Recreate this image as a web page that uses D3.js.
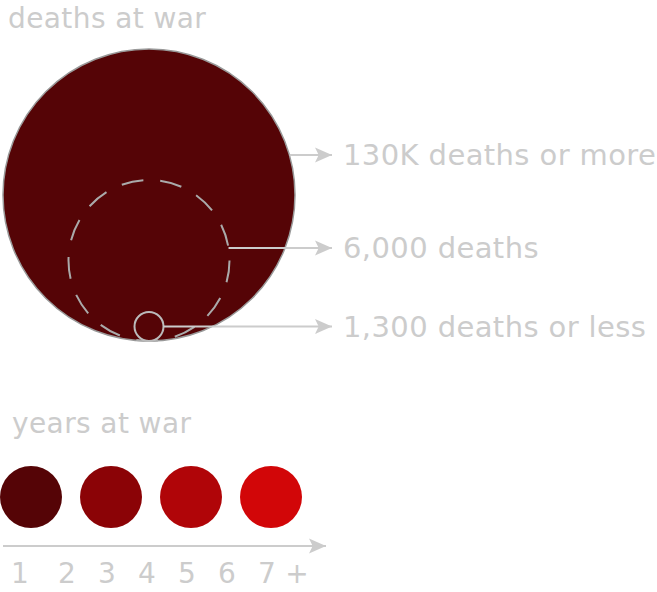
<!DOCTYPE html>
<html>
<head>
<meta charset="utf-8">
<script src="https://cdn.jsdelivr.net/npm/d3@7"></script>
<style>
  html, body { margin: 0; padding: 0; background: #fff; }
  svg { display: block; }
  text { font-family: "DejaVu Sans", sans-serif; fill: #cccccc; }
</style>
</head>
<body>
<svg id="chart" width="657" height="592"></svg>
<script>
// ---- data ----
const deathLevels = [130000, 6000, 1300];
const deathLabels = ["130K deaths or more", "6,000 deaths", "1,300 deaths or less"];
const yearCircles = [1, 3, 5, 7];
const yearColors = ["#550406", "#8b0306", "#b00508", "#d20608"];
const yearTickLabels = ["1", "2", "3", "4", "5", "6", "7", "+"];
const yearTickValues = [1, 2, 3, 4, 5, 6, 7, 7.75];

const svg = d3.select("#chart");
const fsTitle = 28, fsLabel = 29, fsTick = 28;
const ls = 0.4;

// marker
svg.append("defs").append("marker")
  .attr("id", "arr")
  .attr("viewBox", "0 -10 20 20")
  .attr("refX", 18).attr("refY", 0)
  .attr("markerWidth", 19).attr("markerHeight", 19)
  .attr("markerUnits", "userSpaceOnUse")
  .attr("orient", "auto")
  .append("path")
  .attr("d", "M0,-8 L18,0 L0,8 L4,0 Z")
  .attr("fill", "#cccccc");

// ---- deaths legend ----
svg.append("text").attr("x", 8).attr("y", 28)
  .attr("font-size", fsTitle).attr("letter-spacing", ls).text("deaths at war");

const rScale = d3.scaleLog().domain([1300, 6000, 130000]).range([14.5, 80.5, 146]);
const cx = 149, bottomY = 341;
const rowY = [155, 248, 326.5];

const g = svg.append("g");
deathLevels.forEach((d, i) => {
  const r = rScale(d);
  const cy = bottomY - r;
  const c = g.append("circle").attr("cx", cx).attr("cy", cy).attr("r", r);
  if (i === 0) {
    c.attr("fill", yearColors[0]).attr("stroke", "#999").attr("stroke-width", 1.5);
  } else if (i === 1) {
    c.attr("fill", "none").attr("stroke", "#aaaaaa").attr("stroke-width", 2)
     .attr("stroke-dasharray", "22,17");
  } else {
    c.attr("fill", "none").attr("stroke", "#bbbbbb").attr("stroke-width", 2);
  }
});
deathLevels.forEach((d, i) => {
  const r = rScale(d);
  const cy = bottomY - r;
  const dy = rowY[i] - cy;
  const x0 = cx + Math.sqrt(Math.max(0, r * r - dy * dy));
  svg.append("line").attr("x1", x0).attr("x2", 332)
    .attr("y1", rowY[i]).attr("y2", rowY[i])
    .attr("stroke", "#cccccc").attr("stroke-width", 2)
    .attr("marker-end", "url(#arr)");
  svg.append("text").attr("x", 343).attr("y", rowY[i] + 10)
    .attr("font-size", fsLabel).attr("letter-spacing", ls).text(deathLabels[i]);
});

// ---- years legend ----
svg.append("text").attr("x", 12).attr("y", 433)
  .attr("font-size", fsTitle).attr("letter-spacing", ls).text("years at war");

const xCircle = d3.scaleLinear().domain([1, 7]).range([31, 271]);
svg.selectAll("circle.yr").data(yearCircles).enter().append("circle")
  .attr("class", "yr")
  .attr("cx", d => xCircle(d)).attr("cy", 497).attr("r", 31)
  .attr("fill", (d, i) => yearColors[i]);

svg.append("line").attr("x1", 3).attr("x2", 326).attr("y1", 546).attr("y2", 546)
  .attr("stroke", "#cccccc").attr("stroke-width", 2)
  .attr("marker-end", "url(#arr)");

const xTick = d3.scaleLinear().domain([1, 2, 7]).range([20, 67, 267]);
svg.selectAll("text.tick").data(yearTickLabels).enter().append("text")
  .attr("class", "tick")
  .attr("x", (d, i) => xTick(yearTickValues[i])).attr("y", 583)
  .attr("text-anchor", "middle").attr("font-size", fsTick)
  .text(d => d);
</script>
</body>
</html>
